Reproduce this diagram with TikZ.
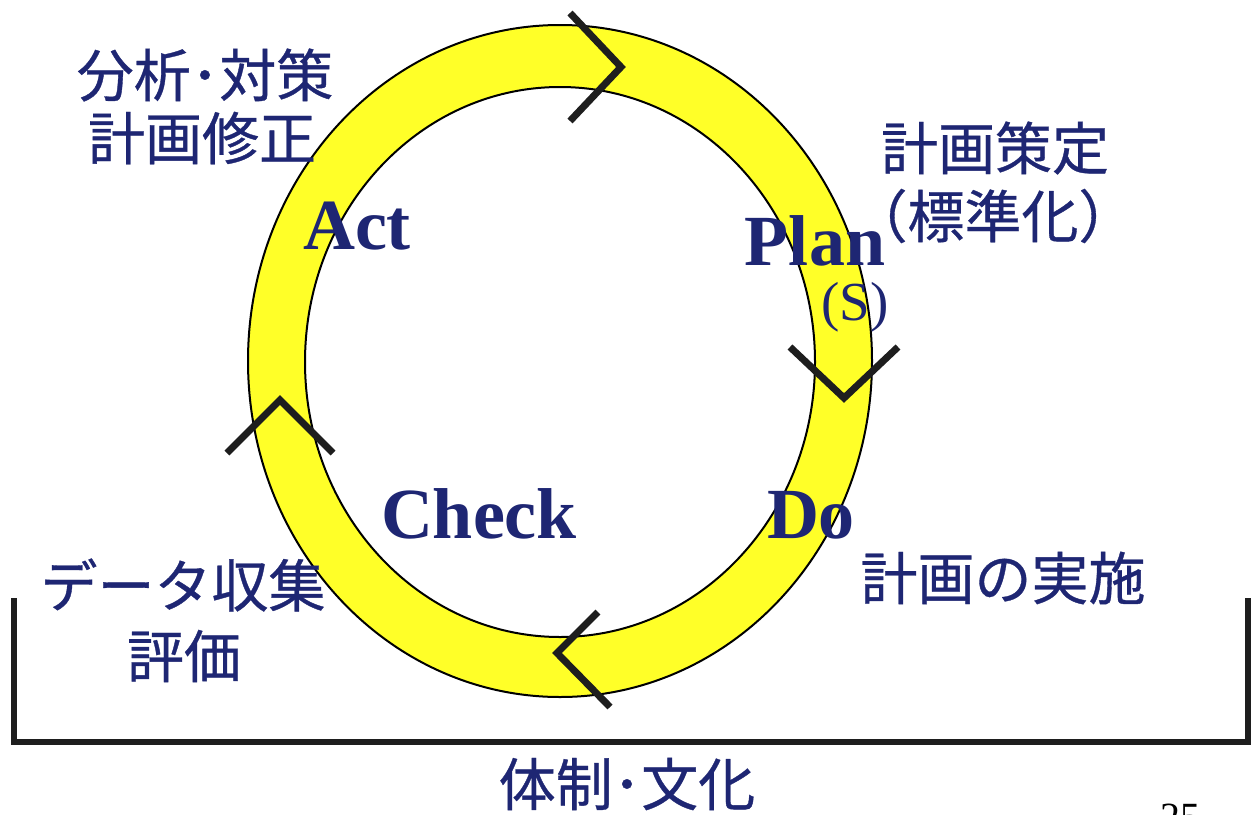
\documentclass[tikz,border=0pt]{standalone}
\usepackage{fontspec}
\setmainfont{Liberation Serif}
\newfontfamily\jp[FakeBold=0.6]{Noto Sans CJK JP}
\definecolor{ringyellow}{RGB}{255,255,40}
\definecolor{navy}{RGB}{30,38,115}
\definecolor{ink}{RGB}{30,30,30}
\tikzset{
  ring/.style={fill=ringyellow, draw=black, line width=2pt, even odd rule},
  chev/.style={draw=ink, line width=7pt, line cap=butt, line join=miter},
  jplabel/.style={text=navy, inner sep=0pt, font=\jp\fontsize{57}{70}\selectfont, align=center},
  enlabel/.style={text=navy, inner sep=0pt, font=\bfseries\fontsize{72}{80}\selectfont},
  bracket/.style={draw=ink, line width=6pt, line cap=butt, line join=miter}
}
\begin{document}
\begin{tikzpicture}[x=1pt,y=-1pt]
\useasboundingbox (0,0) rectangle (1253,814);
\fill[white] (0,0) rectangle (1253,814);
% ring
\path[ring] (560,361) ellipse [x radius=312, y radius=336]
            (560,362) ellipse [x radius=255, y radius=275];
% chevrons
\draw[chev] (570,13) -- (621,67) -- (570,121);
\draw[chev] (790,347) -- (844,398) -- (898,347);
\draw[chev] (610,707) -- (557,653) -- (598,612);
\draw[chev] (227,453) -- (280,400) -- (333,453);
% bracket
\coordinate (bl) at (14,598);
\coordinate (br) at (1248,598);
\draw[bracket] (bl) -- (14,742) -- (1248,742) -- (br);
% labels
\node[jplabel] (act1) at (205,75) {分析･対策};
\node[jplabel] (act2) at (202,138) {計画修正};
\node[jplabel] (plan1) at (995,148) {計画策定};
\node[jplabel] (plan2) at (993,216) {（標準化）};
\node[jplabel] (do1) at (1003,578) {計画の実施};
\node[jplabel] (chk1) at (183,585) {データ収集};
\node[jplabel] (chk2) at (184,656) {評価};
\node[jplabel] (base) at (627,784) {体制･文化};
\node[enlabel, anchor=base] (act) at (357,249) {Act};
\node[enlabel, anchor=base] (plan) at (815,265) {Plan};
\node[text=navy, inner sep=0pt, font=\fontsize{55}{60}\selectfont, anchor=base] (s) at (855,320) {(S)};
\node[enlabel, anchor=base] (check) at (479,538) {Check};
\node[enlabel, anchor=base] (do) at (811,538) {Do};
\node[text=black, inner sep=0pt, font=\fontsize{40}{44}\selectfont, anchor=base] (page) at (1180,830) {25};
\end{tikzpicture}
\end{document}
